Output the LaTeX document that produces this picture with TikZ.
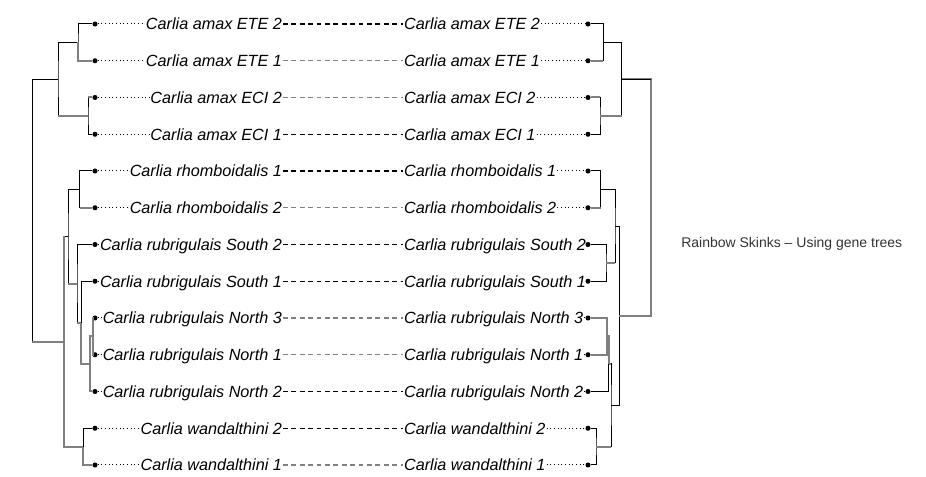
\documentclass[tikz,border=0pt]{standalone}
\usepackage{fontspec}
\setmainfont{Liberation Sans}
\usepackage{xcolor}
\usepackage{tikz}
\definecolor{branch}{HTML}{808080}
\definecolor{caption}{HTML}{333333}
\tikzset{
  tip/.style={circle, fill=black, inner sep=0pt, minimum size=3.8pt},
  taxon/.style={font=\fontsize{12.15}{14}\selectfont\itshape, inner xsep=0.6pt, inner ysep=0pt, text height=8.7pt, text depth=0pt},
  edge/.style={black, line width=0.75pt},
  hedge/.style={branch, line width=1.5pt},
  link/.style={line width=0.8pt, dash pattern=on 3.6pt off 2.7pt},
  lead/.style={black, line width=0.75pt, dotted}
}

\begin{document}
\begin{tikzpicture}[x=0.75pt, y=-0.75pt]
    \useasboundingbox (0,0) rectangle (926,477);
    \foreach \i/\lbl/\c in {0/Carlia amax ETE 2/black, 1/Carlia amax ETE 1/branch, 2/Carlia amax ECI 2/branch,
        3/Carlia amax ECI 1/black, 4/Carlia rhomboidalis 1/black, 5/Carlia rhomboidalis 2/branch,
        6/Carlia rubrigulais South 2/black, 7/Carlia rubrigulais South 1/black, 8/Carlia rubrigulais North 3/branch,
        9/Carlia rubrigulais North 1/branch, 10/Carlia rubrigulais North 2/black, 11/Carlia wandalthini 2/black,
        12/Carlia wandalthini 1/branch} {
      \node[tip] (L\i) at (95,24+36.75*\i) {};
      \node[tip] (R\i) at (588,24+36.75*\i) {};
      \node[taxon, anchor=east] (la\i) at (283,24+36.75*\i) {\lbl};
      \node[taxon, anchor=west] (ra\i) at (403,24+36.75*\i) {\lbl};
      \draw[lead] (L\i) -- (la\i);
      \draw[lead] (ra\i) -- (R\i);
      \draw[link, \c] (la\i) -- (ra\i);
    }

    \coordinate (lete) at (78,42.375);
    \coordinate (leci) at (88,115.875);
    \coordinate (lamax) at (58,79.125);
    \coordinate (lrho) at (79.7,189.375);
    \coordinate (lnc) at (92.5,336.375);
    \coordinate (lnorth) at (90.3,363.94);
    \coordinate (ls1) at (81.3,322.6);
    \coordinate (ls2) at (77,283.55);
    \coordinate (lmid) at (68,236.46);
    \coordinate (lwan) at (83.3,446.625);
    \coordinate (llow) at (63.5,341.54);
    \coordinate (lroot) at (32.3,210.33);

    \coordinate (rete) at (603.3,42.375);
    \coordinate (reci) at (600,115.875);
    \coordinate (ramax) at (621.7,79.125);
    \coordinate (rrho) at (600.7,189.375);
    \coordinate (rsth) at (606,262.875);
    \coordinate (rupp) at (615,226.125);
    \coordinate (rnc) at (607.3,336.375);
    \coordinate (rnorth) at (608.8,363.94);
    \coordinate (rwan) at (596,446.625);
    \coordinate (rlow) at (611,405.28);
    \coordinate (rmid) at (619.3,315.7);
    \coordinate (rroot) at (650.7,197.41);

    \foreach \a/\p/\b in {L0/lete/L1, L2/leci/L3, lete/lamax/leci, L4/lrho/L5, L8/lnc/L9, lnc/lnorth/L10,
        L7/ls1/lnorth, L6/ls2/ls1, lrho/lmid/ls2, L11/lwan/L12, lmid/llow/lwan, lamax/lroot/llow,
        R0/rete/R1, R2/reci/R3, rete/ramax/reci, R4/rrho/R5, R6/rsth/R7, rrho/rupp/rsth, R8/rnc/R9,
        rnc/rnorth/R10, R11/rwan/R12, rnorth/rlow/rwan, rupp/rmid/rlow, ramax/rroot/rmid}
      \draw[edge] (\a) -| (\p) |- (\b);

    \foreach \p/\c in {lete/L1, llow/lwan, ls1/lnorth, lnorth/lnc, lnorth/L10, lnc/L8, lnc/L9, lwan/L12,
        rnc/R8, rnc/R9, rnorth/rnc, rroot/rmid, rroot/ramax}
      \draw[hedge] (\p) |- (\c);
    \foreach \p/\c in {leci/L2, lamax/leci, lrho/L5, lroot/llow, lmid/ls2, ls2/ls1,
        rete/R1, reci/R2, ramax/reci, rrho/R5, rupp/rsth, rlow/rwan, rlow/rnorth}
      \draw[hedge] (\p |- \c) -- (\c);
    \draw[hedge] (llow) -- (llow |- lmid);
    \draw[edge] (rroot |- ramax) -- (ramax);

    \node[font=\fontsize{10.5}{12}\selectfont, text=caption, anchor=west, inner sep=0pt] (title) at (681,244) {Rainbow Skinks \textendash{} Using gene trees};
  \end{tikzpicture}
\end{document}
